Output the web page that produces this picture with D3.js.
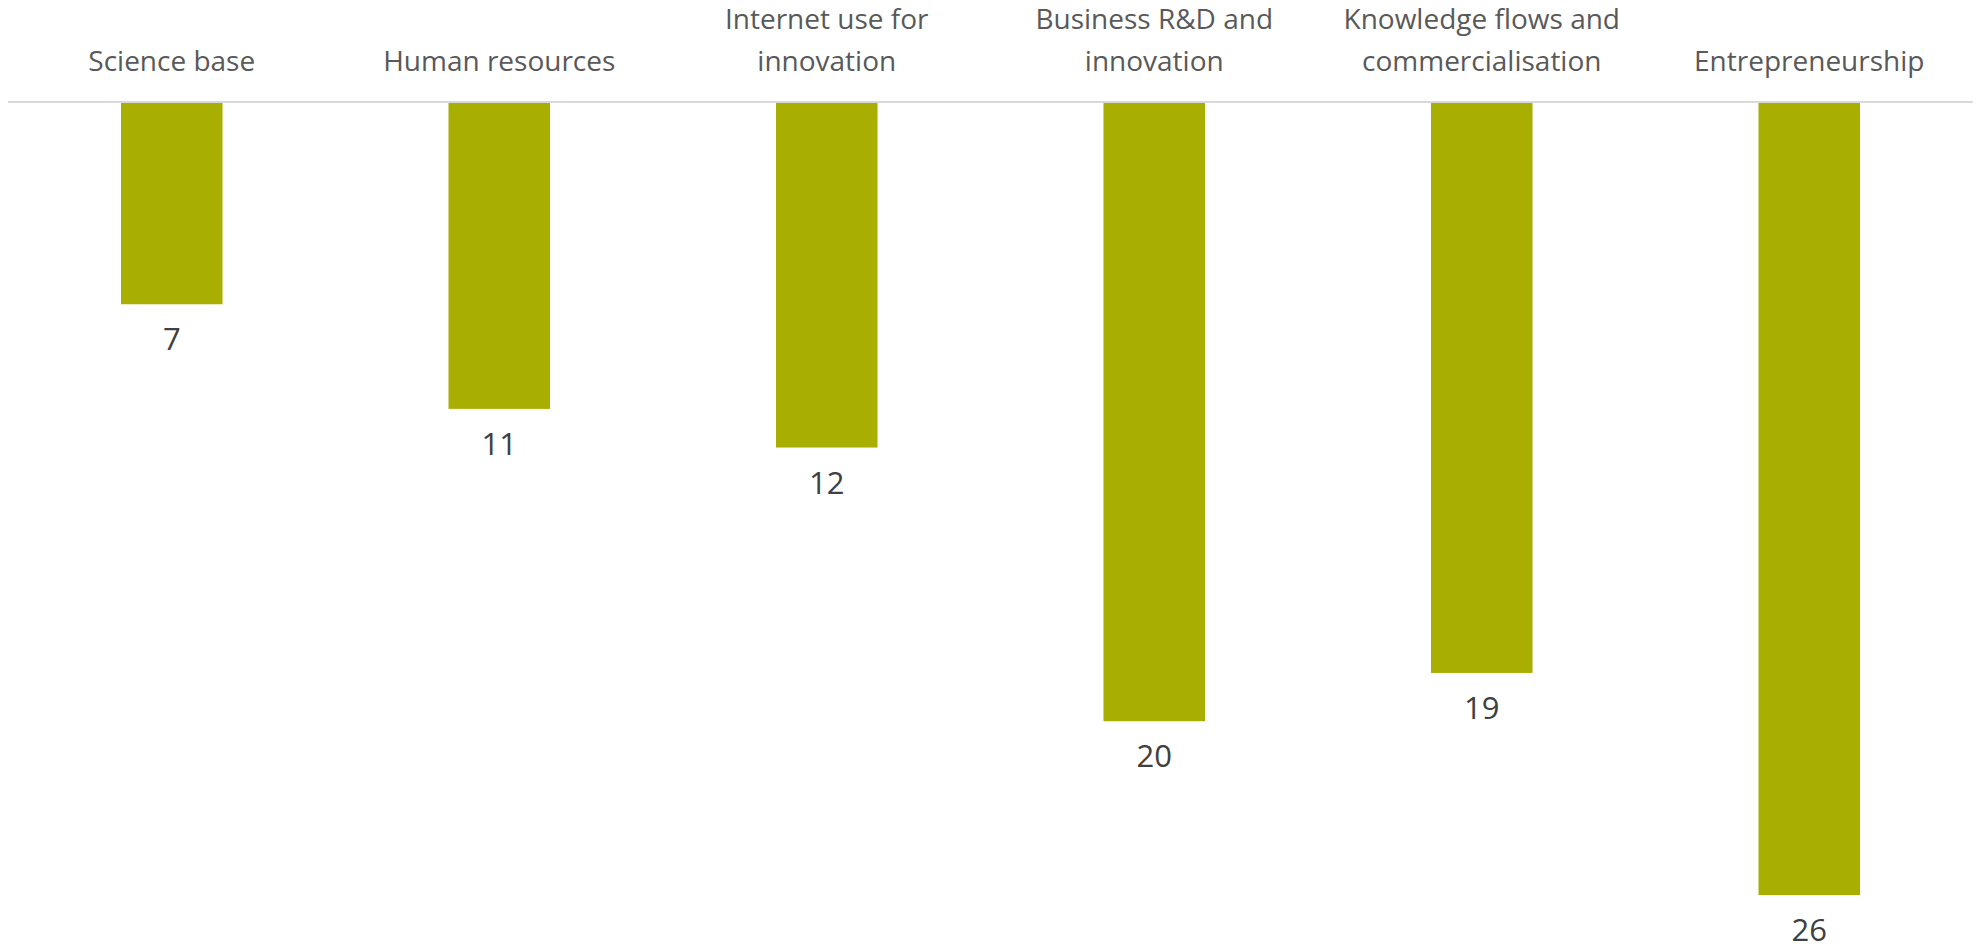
<!DOCTYPE html>
<html>
<head>
<meta charset="utf-8">
<script src="https://cdn.jsdelivr.net/npm/d3@7"></script>
<style>
  html, body { margin: 0; padding: 0; background: #fff; }
  svg { display: block; }
</style>
</head>
<body>
<div id="chart"></div>
<script>
// categories along the top axis
const categories = [
  'Science base',
  'Human resources',
  'Internet use for innovation',
  'Business R&D and innovation',
  'Knowledge flows and commercialisation',
  'Entrepreneurship'
];

// bar values (labels show them rounded)
const values = [7.45, 10.7, 11.9, 20.4, 18.9, 25.8];

const width = 1977;
const height = 948;
const axisY = 102;
const barColor = '#a9af00';
const fontFamily = '"Segoe UI", "Open Sans", sans-serif';

const svg = d3.select('#chart').append('svg')
  .attr('width', width)
  .attr('height', height);

const x = d3.scaleBand()
  .domain(categories)
  .range([8, 1973])
  .paddingInner(0.69)
  .paddingOuter(0.345);

// value axis runs downward from the category axis
const y = d3.scaleLinear()
  .domain([1.2, 28])
  .range([axisY + 1, axisY + 1 + 26.8 * 32.2]);

// bars
svg.selectAll('.bar')
  .data(values)
  .enter().append('rect')
  .attr('class', 'bar')
  .attr('x', (d, i) => x(categories[i]))
  .attr('y', y(y.domain()[0]))
  .attr('width', x.bandwidth())
  .attr('height', (d) => y(d) - y(y.domain()[0]))
  .style('fill', barColor);

// axis line
svg.append('line')
  .attr('x1', x.range()[0])
  .attr('x2', x.range()[1])
  .attr('y1', axisY)
  .attr('y2', axisY)
  .style('stroke', '#d9d9d9')
  .style('stroke-width', 2);

// data labels under each bar
const fmt = d3.format('.0f');
svg.selectAll('.value-label')
  .data(values)
  .enter().append('text')
  .attr('class', 'value-label')
  .attr('x', (d, i) => x(categories[i]) + x.bandwidth() / 2)
  .attr('y', (d) => y(d) + 46)
  .attr('text-anchor', 'middle')
  .style('font-family', fontFamily)
  .style('font-size', '31px')
  .style('fill', '#404040')
  .text((d) => fmt(d));

// category labels, wrapped and bottom aligned above the axis
const maxLabelWidth = 300;
const lineHeight = 42;
const lastBaseline = 71;
categories.forEach((name) => {
  const cx = x(name) + x.bandwidth() / 2;
  const text = svg.append('text')
    .attr('text-anchor', 'middle')
    .style('font-family', fontFamily)
    .style('font-size', '28px')
    .style('fill', '#595959');
  const words = name.split(' ');
  let lines = [];
  let line = [];
  const probe = text.append('tspan');
  words.forEach((w) => {
    line.push(w);
    probe.text(line.join(' '));
    if (probe.node().getComputedTextLength() > maxLabelWidth && line.length > 1) {
      line.pop();
      lines.push(line.join(' '));
      line = [w];
    }
  });
  lines.push(line.join(' '));
  probe.remove();
  lines.forEach((l, i) => {
    text.append('tspan')
      .attr('x', cx)
      .attr('y', lastBaseline - (lines.length - 1 - i) * lineHeight)
      .text(l);
  });
});
</script>
</body>
</html>
